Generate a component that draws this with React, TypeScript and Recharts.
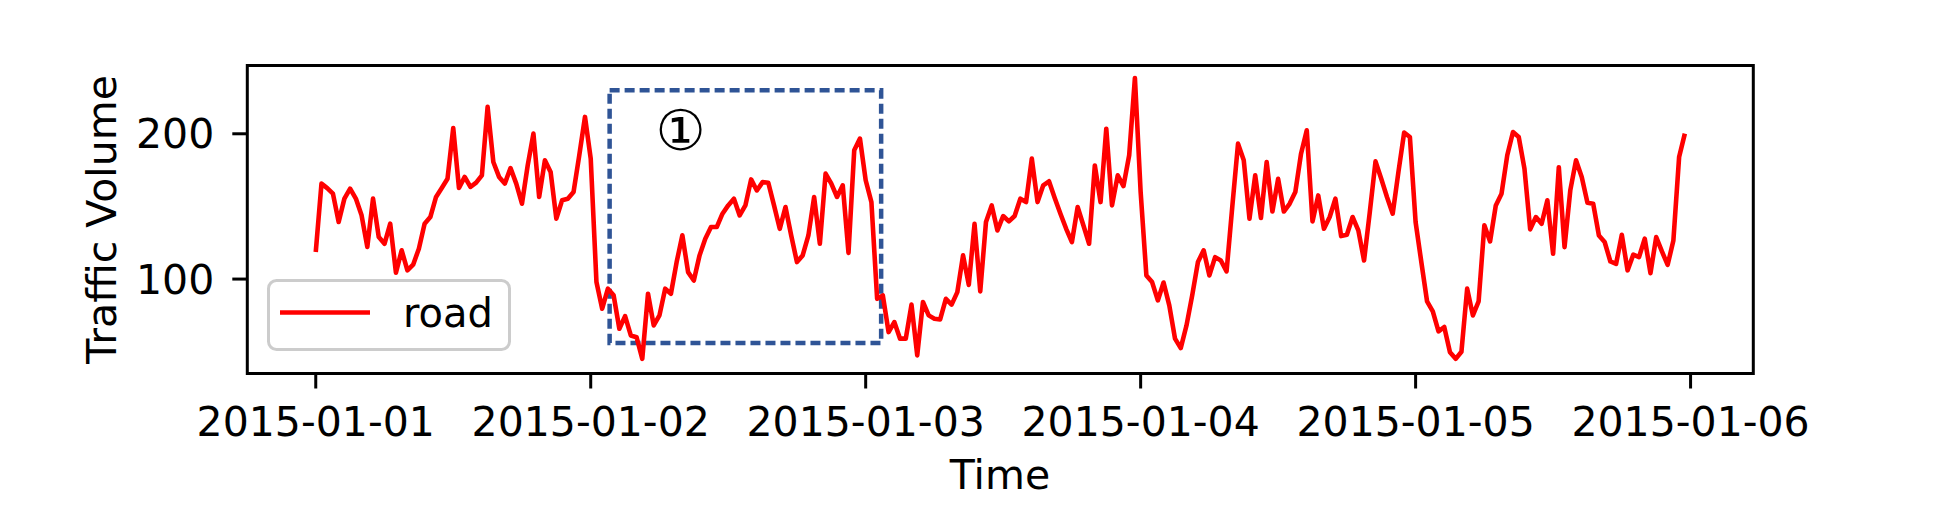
import React from 'react';
import { LineChart, Line, XAxis, YAxis, ReferenceArea, ReferenceDot, Legend } from 'recharts';

// Half-hourly traffic volume, 2015-01-01 00:00 .. 2015-01-05 23:30 (240 points)
const volume: number[] = [
  118.6, 165.7, 162.6, 158.8, 139.3, 155.4, 162.2, 155.4, 143.9, 122.1,
  155.4, 128.9, 124.3, 138.1, 104.4, 119.8, 106.0, 109.9, 120.9, 138.1,
  142.7, 156.5, 162.7, 169.1, 204.0, 162.7, 170.3, 163.4, 166.4, 171.4,
  218.5, 180.6, 170.3, 165.7, 176.4, 165.7, 151.9, 178.3, 200.1, 156.5,
  181.7, 173.7, 141.6, 154.2, 155.3, 159.9, 185.2, 211.6, 182.9, 98.0,
  79.6, 93.4, 88.8, 65.8, 74.5, 61.2, 60.0, 45.1, 89.9, 68.1,
  75.0, 93.4, 89.9, 111.7, 130.1, 104.8, 99.0, 116.3, 127.8, 135.8,
  135.8, 145.0, 150.7, 155.3, 143.8, 150.7, 168.6, 161.0, 166.7, 166.3,
  150.7, 134.6, 149.6, 130.0, 111.7, 116.3, 130.0, 156.5, 124.3, 172.6,
  165.7, 156.5, 164.5, 118.0, 188.6, 196.7, 168.0, 153.0, 86.4, 88.7,
  63.5, 70.4, 59.0, 59.0, 82.4, 47.5, 84.2, 75.0, 72.7, 72.2,
  86.4, 82.4, 91.0, 116.3, 96.0, 138.0, 91.5, 139.3, 150.7, 133.5,
  143.4, 139.7, 143.4, 155.3, 153.0, 182.9, 153.0, 164.5, 167.3, 155.8,
  145.0, 134.6, 125.5, 149.6, 137.0, 124.3, 178.2, 153.0, 203.5, 150.7,
  171.4, 164.0, 185.2, 238.4, 159.9, 102.5, 97.9, 85.3, 97.6, 81.9,
  59.0, 52.5, 68.0, 88.8, 111.7, 119.8, 102.5, 115.1, 112.8, 105.3,
  150.0, 193.2, 181.7, 141.5, 171.4, 142.0, 180.6, 146.5, 169.0, 146.5,
  151.8, 159.9, 186.3, 202.4, 139.7, 157.6, 134.6, 142.7, 155.3, 129.6,
  130.5, 142.7, 133.5, 112.8, 146.0, 181.0, 169.0, 156.5, 145.0, 173.7,
  200.8, 197.8, 139.2, 111.7, 84.6, 77.7, 64.0, 67.0, 49.7, 45.1,
  50.0, 93.4, 75.0, 84.6, 137.0, 125.9, 150.7, 158.8, 185.2, 201.2,
  197.8, 176.0, 134.2, 142.7, 138.1, 154.2, 117.4, 177.0, 122.0, 161.0,
  181.7, 170.3, 152.6, 151.9, 130.0, 125.5, 112.1, 110.5, 130.5, 106.0,
  116.8, 115.1, 127.8, 104.1, 128.9, 119.0, 109.8, 126.6, 184.0, 200.1,
];

const seriesName = 'road';
const dayLabels = ['2015-01-01', '2015-01-02', '2015-01-03', '2015-01-04', '2015-01-05', '2015-01-06'];
const dayTicks = [0, 48, 96, 144, 192, 240];
const yTicks = [100, 200];
const xDomain: [number, number] = [-11.95, 250.95];
const yDomain: [number, number] = [35, 247];

// annotation: dashed box and its circled marker (data coordinates)
const boxX: [number, number] = [51.3, 98.7];
const boxY: [number, number] = [56, 230];
const markX = 63.7;
const markY = 202.5;
const markText = '①';

const data = volume.map((v, i) => ({ t: i, [seriesName]: v }));

const FONT = 'DejaVu Sans';

const YTitle = () => (
  <text transform="translate(108,211.5) rotate(-90)" textAnchor="middle" fontSize={41} fontFamily={FONT} fill="#000">
    Traffic Volume
  </text>
);

const XTitle = () => (
  <text x={992} y={481} textAnchor="middle" fontSize={41} fontFamily={FONT} fill="#000">
    Time
  </text>
);

const LegendBox = (props: any) => {
  const item = (props.payload && props.payload[0]) || { value: seriesName, color: '#ff0000' };
  return (
    <svg width={244} height={72} style={{ display: 'block' }}>
      <rect x={1.5} y={1.5} width={241} height={69} rx={8} ry={8} fill="#ffffff" fillOpacity={0.8} stroke="#cccccc" strokeWidth={3} />
      <line x1={13} y1={33.5} x2={103} y2={33.5} stroke="#ff0000" strokeWidth={4.5} />
      <text x={136} y={47.5} fontSize={40} fontFamily={FONT} fill="#000">{item.value}</text>
    </svg>
  );
};

export default function App() {
  return (
    <div style={{ width: 1934, height: 503, background: '#fff' }}>
      <LineChart
        width={1934}
        height={503}
        data={data}
        margin={{ top: 57.5, right: 188.7, left: 0, bottom: 0 }}
      >
        <XAxis
          dataKey="t"
          type="number"
          domain={xDomain}
          allowDataOverflow
          ticks={dayTicks}
          tickFormatter={(v: number) => dayLabels[Math.round(v / 48)]}
          height={137.5}
          axisLine={false}
          tickLine={{ stroke: '#000', strokeWidth: 3 }}
          tickSize={15}
          tickMargin={18}
          tick={{ fill: '#000', fontSize: 41, fontFamily: FONT }}
          interval={0}
          label={<XTitle />}
        />
        <YAxis
          type="number"
          domain={yDomain}
          allowDataOverflow
          ticks={yTicks}
          width={239.3}
          axisLine={false}
          tickLine={{ stroke: '#000', strokeWidth: 3 }}
          tickSize={15}
          tickMargin={18}
          tick={{ fill: '#000', fontSize: 41, fontFamily: FONT }}
          interval={0}
          label={<YTitle />}
        />
        <Line
          type="linear"
          dataKey={seriesName}
          name={seriesName}
          stroke="#ff0000"
          strokeWidth={4.6}
          strokeLinejoin="round"
          dot={false}
          activeDot={false}
          isAnimationActive={false}
        />
        <ReferenceArea
          x1={boxX[0]}
          x2={boxX[1]}
          y1={boxY[0]}
          y2={boxY[1]}
          stroke="#2F5496"
          strokeWidth={4.5}
          strokeDasharray="10 5"
          fill="none"
          fillOpacity={0}
          ifOverflow="visible"
        />
        <ReferenceDot
          x={markX}
          y={markY}
          r={0}
          fill="none"
          stroke="none"
          ifOverflow="visible"
          label={{ value: markText, position: 'center', fontSize: 56, fontFamily: FONT, fill: '#000' }}
        />
        <ReferenceArea
          x1={xDomain[0]}
          x2={xDomain[1]}
          y1={yDomain[0]}
          y2={yDomain[1]}
          stroke="#000"
          strokeWidth={3}
          fill="none"
          fillOpacity={0}
          ifOverflow="visible"
        />
        <Legend
          layout="horizontal"
          verticalAlign="middle"
          align="center"
          content={<LegendBox />}
          wrapperStyle={{ left: 259, top: 271, width: 244, height: 72, margin: 0 }}
        />
      </LineChart>
    </div>
  );
}
